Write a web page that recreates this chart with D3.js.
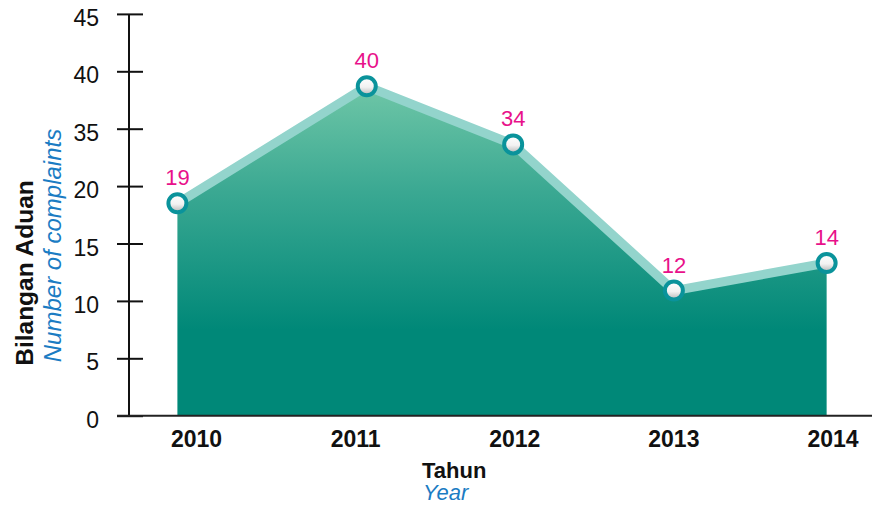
<!DOCTYPE html>
<html>
<head>
<meta charset="utf-8">
<script src="https://cdn.jsdelivr.net/npm/d3@7"></script>
<style>
  body { margin: 0; background: #fff; }
  svg { display: block; font-family: "Liberation Sans", Arial, sans-serif; }
</style>
</head>
<body>
<script>
var years = [2010, 2011, 2012, 2013, 2014]
// where each point sits along the year axis
var pointYear = [2009.88, 2011.07, 2011.99, 2013.0, 2013.96]
// plotted height of each point on the (broken) value axis
var plotted = [18.5, 38.7, 30.9, 10.9, 13.3]
// numbers printed above the points
var labels = [19, 40, 34, 12, 14]
var yTicks = [0, 5, 10, 15, 20, 35, 40, 45]

var width = 872
var height = 506
var axisX = 129
var baseY = 415.7
var tickStep = 57.4

var svg = d3.select('body').append('svg')
    .attr('width', width)
    .attr('height', height)

var x = d3.scaleLinear()
    .domain([2010, 2014])
    .range([196.5, 833])

// evenly spaced ticks even though the values jump from 20 to 35
var y = d3.scaleLinear()
    .domain(yTicks)
    .range(yTicks.map(function (d, i) { return baseY - i * tickStep }))

var defs = svg.append('defs')

var areaGrad = defs.append('linearGradient')
    .attr('id', 'areaGrad')
    .attr('gradientUnits', 'userSpaceOnUse')
    .attr('x1', 0).attr('x2', 0)
    .attr('y1', 80).attr('y2', 330)
areaGrad.append('stop').attr('offset', '0%').attr('stop-color', '#72c8a8')
areaGrad.append('stop').attr('offset', '45%').attr('stop-color', '#3aa892')
areaGrad.append('stop').attr('offset', '100%').attr('stop-color', '#008878')

var dotGrad = defs.append('linearGradient')
    .attr('id', 'dotGrad')
    .attr('x1', 0).attr('x2', 0)
    .attr('y1', 0).attr('y2', 1)
dotGrad.append('stop').attr('offset', '0%').attr('stop-color', '#ffffff')
dotGrad.append('stop').attr('offset', '55%').attr('stop-color', '#f2f2f2')
dotGrad.append('stop').attr('offset', '100%').attr('stop-color', '#b5b5b5')

var points = years.map(function (yr, i) {
    return { year: yr, pos: pointYear[i], value: plotted[i], label: labels[i] }
})

var area = d3.area()
    .x(function (d) { return x(d.pos) })
    .y0(y(0))
    .y1(function (d) { return y(d.value) })

var line = d3.line()
    .x(function (d) { return x(d.pos) })
    .y(function (d) { return y(d.value) })

svg.append('path')
    .datum(points)
    .attr('d', area)
    .attr('fill', 'url(#areaGrad)')

svg.append('path')
    .datum(points)
    .attr('d', line)
    .attr('fill', 'none')
    .attr('stroke', '#93d4cc')
    .attr('stroke-width', 9)
    .attr('stroke-linejoin', 'miter')

// y axis
var yAxis = d3.axisLeft(y)
    .tickValues(yTicks)
    .tickSize(12)
    .tickPadding(18)

var gy = svg.append('g')
    .attr('transform', 'translate(' + axisX + ',0)')
    .call(yAxis)

gy.select('.domain').remove()
gy.selectAll('.tick line')
    .attr('x1', -12).attr('x2', 14)
    .attr('stroke', '#111').attr('stroke-width', 2)
gy.selectAll('.tick text')
    .attr('font-size', 23)
    .attr('font-family', '"Liberation Sans", Arial, sans-serif')
    .attr('fill', '#111')
    .attr('dy', '0.5em')

gy.append('line')
    .attr('x1', 0).attr('x2', 0)
    .attr('y1', y(45)).attr('y2', y(0))
    .attr('stroke', '#111').attr('stroke-width', 2)

// x axis
svg.append('line')
    .attr('x1', axisX - 12).attr('x2', width)
    .attr('y1', y(0)).attr('y2', y(0))
    .attr('stroke', '#222').attr('stroke-width', 2)

svg.selectAll('.year-label')
    .data(years)
    .enter().append('text')
    .attr('class', 'year-label')
    .attr('x', function (d) { return x(d) })
    .attr('y', 446.5)
    .attr('text-anchor', 'middle')
    .attr('font-size', 23)
    .attr('font-weight', 'bold')
    .attr('fill', '#111')
    .text(function (d) { return d })

// points
var dots = svg.selectAll('.dot')
    .data(points)
    .enter().append('g')
    .attr('class', 'dot')
    .attr('transform', function (d) {
        return 'translate(' + x(d.pos) + ',' + y(d.value) + ')'
    })

dots.append('circle')
    .attr('r', 9)
    .attr('fill', 'url(#dotGrad)')
    .attr('stroke', '#0a939b')
    .attr('stroke-width', 4)

dots.append('text')
    .attr('y', -18)
    .attr('text-anchor', 'middle')
    .attr('font-size', 22)
    .attr('fill', '#e8118a')
    .text(function (d) { return d.label })

// axis titles
svg.append('text')
    .attr('transform', 'translate(33,273) rotate(-90)')
    .attr('text-anchor', 'middle')
    .attr('font-size', 24.5)
    .attr('font-weight', 'bold')
    .attr('fill', '#111')
    .text('Bilangan Aduan')

svg.append('text')
    .attr('transform', 'translate(61,245.5) rotate(-90)')
    .attr('text-anchor', 'middle')
    .attr('font-size', 24)
    .attr('font-style', 'italic')
    .attr('fill', '#1b7cc3')
    .text('Number of complaints')

svg.append('text')
    .attr('x', 422)
    .attr('y', 478)
    .attr('font-size', 22)
    .attr('font-weight', 'bold')
    .attr('fill', '#111')
    .text('Tahun')

svg.append('text')
    .attr('x', 423)
    .attr('y', 500)
    .attr('font-size', 22)
    .attr('font-style', 'italic')
    .attr('fill', '#1b7cc3')
    .text('Year')
</script>
</body>
</html>
